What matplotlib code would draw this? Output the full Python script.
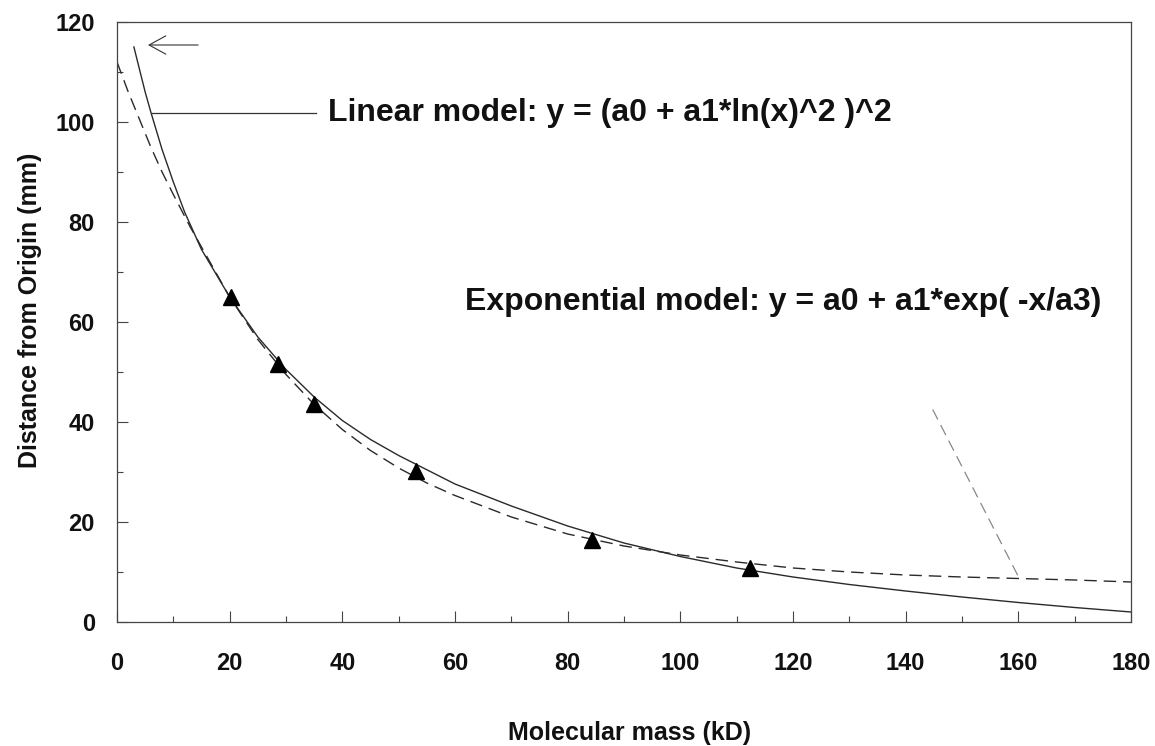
import matplotlib
matplotlib.use("Agg")
import matplotlib.pyplot as plt
from matplotlib.ticker import MultipleLocator

plt.rcParams['font.family'] = ['Liberation Sans', 'DejaVu Sans']
plt.rcParams['font.weight'] = 'bold'

# Measured data points (triangles)
mass_kd = [20.2, 28.6, 35.0, 53.1, 84.3, 112.4]
distance_mm = [65.1, 51.6, 43.6, 30.3, 16.4, 10.9]

# Linear model curve (solid)
lin_x = [3, 4, 5, 6, 8, 10, 12, 15, 20, 25, 30, 35, 40, 45, 50, 60, 70, 80, 90,
         100, 110, 120, 130, 140, 150, 160, 170, 180]
lin_y = [115, 110.5, 106, 102, 94.5, 88, 82, 74.5, 65, 57, 50.5, 45, 40.3, 36.5,
         33.3, 27.6, 23.2, 19.2, 15.8, 13.1, 10.8, 9.0, 7.5, 6.2, 5.0, 3.9, 2.9, 2.0]

# Exponential model curve (dashed)
exp_x = [0, 2, 4, 6, 8, 10, 13, 16, 20, 25, 30, 35, 40, 45, 50, 55, 60, 70, 80,
         90, 100, 110, 120, 130, 140, 150, 160, 170, 180]
exp_y = [112, 106, 100.5, 95, 90, 85.5, 79, 73, 65, 56.5, 49.5, 43.5, 38.5, 34.3,
         30.8, 27.8, 25.3, 21.0, 17.6, 15.2, 13.4, 12.0, 10.8, 10.0, 9.4, 9.0,
         8.7, 8.4, 8.0]

x_ticks = [0, 20, 40, 60, 80, 100, 120, 140, 160, 180]
y_ticks = [0, 20, 40, 60, 80, 100, 120]

linear_label = "Linear model: y = (a0 + a1*ln(x)^2 )^2"
exp_label = "Exponential model: y = a0 + a1*exp( -x/a3)"

W, H = 1155, 746
fig = plt.figure(figsize=(W / 100, H / 100), dpi=100)
fig.patch.set_facecolor('white')
ax = fig.add_axes([117 / W, 1 - 622 / H, (1131 - 117) / W, 600 / H])
ax.set_xlim(0, 180)
ax.set_ylim(0, 120)

line_col = '#2a2a2a'
ax.plot(lin_x, lin_y, '-', color=line_col, lw=1.0)
ax.plot(exp_x, exp_y, color=line_col, lw=1.0, dashes=(9, 5))
ax.plot(mass_kd, distance_mm, '^', color='black', ms=11, mec='black')

# annotations
ax.annotate('', xy=(5.5, 115.4), xytext=(14.4, 115.4),
            arrowprops=dict(arrowstyle='->,head_length=0.4,head_width=0.22',
                            color='#333333', lw=0.8, shrinkA=0, shrinkB=0,
                            mutation_scale=30))
ax.plot([6.2, 35.3], [101.8, 101.8], color='#333333', lw=0.9)
ax.text(37.5, 100.2, linear_label, fontsize=23, fontweight='bold',
        color='#111111', ha='left', va='baseline')
ax.plot([144.8, 160.0], [42.5, 9.1], color='#888888', lw=0.9, dashes=(9, 5))
ax.text(61.8, 62.4, exp_label, fontsize=23, fontweight='bold',
        color='#111111', ha='left', va='baseline')

# ticks
ax.set_xticks(x_ticks)
ax.set_yticks(y_ticks)
ax.xaxis.set_minor_locator(MultipleLocator(10))
ax.yaxis.set_minor_locator(MultipleLocator(10))
ax.tick_params(which='major', direction='in', length=8, width=0.8,
               color='#444444', labelsize=17, labelcolor='#111111')
ax.tick_params(axis='x', which='major', pad=21.5)
ax.tick_params(axis='y', which='major', pad=16)
ax.tick_params(which='minor', direction='in', length=4, width=0.8,
               color='#444444')
for lab in ax.get_xticklabels() + ax.get_yticklabels():
    lab.set_fontweight('bold')
for s in ax.spines.values():
    s.set_color('#444444')
    s.set_linewidth(0.9)

fig.text(630 / W, 1 - 740 / H, "Molecular mass (kD)", fontsize=18,
         fontweight='bold', color='#111111', ha='center', va='baseline')
fig.text(30 / W, 1 - 310 / H, "Distance from Origin (mm)", fontsize=18,
         fontweight='bold', color='#111111', ha='center', va='center',
         rotation=90)

fig.savefig('out.png', dpi=100, facecolor='white')
